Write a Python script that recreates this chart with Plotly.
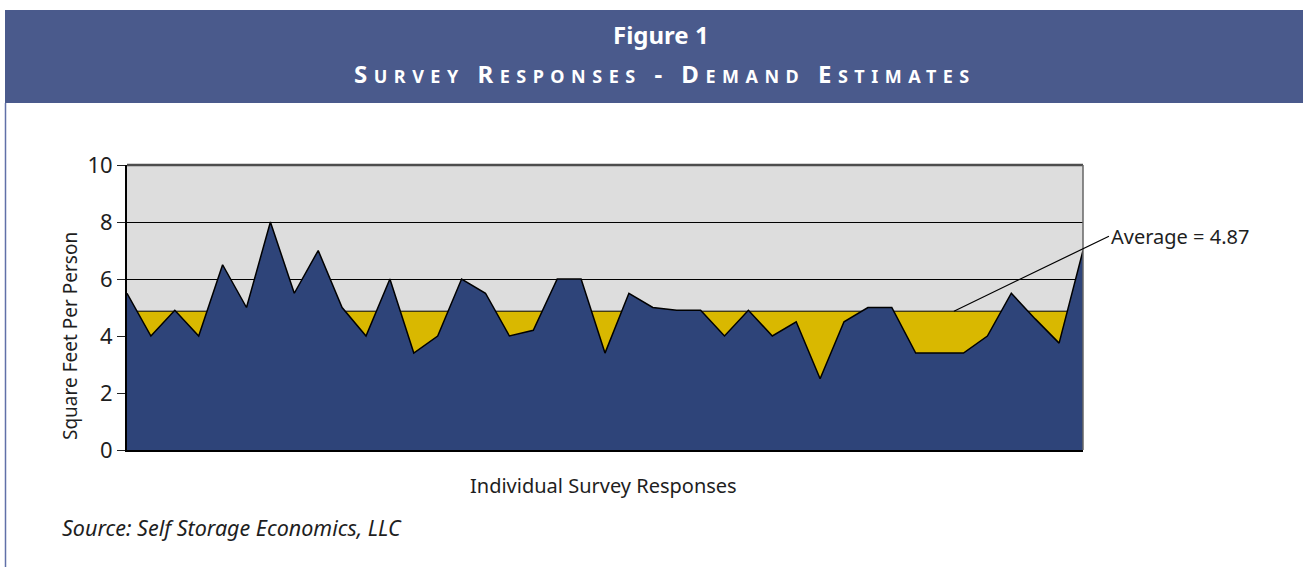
import plotly.graph_objects as go

# ---- data ----
responses = list(range(41))
sq_ft_per_person = [5.5, 4.0, 4.9, 4.0, 6.5, 5.0, 8.0, 5.5, 7.0, 5.0,
                    4.0, 6.0, 3.4, 4.0, 6.0, 5.5, 4.0, 4.2, 6.0, 6.0,
                    3.4, 5.5, 5.0, 4.9, 4.9, 4.0, 4.9, 4.0, 4.5, 2.5,
                    4.5, 5.0, 5.0, 3.4, 3.4, 3.4, 4.0, 5.5, 4.6, 3.75,
                    7.0]
average_value = 4.87
average_line = [average_value] * len(responses)
y_tick_values = [0, 2, 4, 6, 8, 10]
y_tick_labels = ["0", "2", "4", "6", "8", "10"]

# ---- geometry helpers (pixel -> paper) ----
W, H = 1303, 567
L, R, T, B = 127, 1083, 165, 450


def px(x):
    return (x - L) / (R - L)


def py(y):
    return (B - y) / (B - T)


FONT = "Noto Sans"
BANNER = "#4a5a8c"
NAVY = "#2e4479"
GOLD = "#d9b800"
TXT = "#1e1e1e"

fig = go.Figure()

# average band (gold) - visible where data falls below the average
fig.add_trace(go.Scatter(
    x=responses, y=average_line, mode="lines",
    line=dict(color="black", width=1),
    fill="tozeroy", fillcolor=GOLD, hoverinfo="skip", showlegend=False))

# responses area (navy)
fig.add_trace(go.Scatter(
    x=responses, y=sq_ft_per_person, mode="lines",
    line=dict(color="black", width=1.5),
    fill="tozeroy", fillcolor=NAVY, showlegend=False))

fig.update_xaxes(range=[0, 40], showgrid=False, zeroline=False,
                 showticklabels=False, ticks="", showline=True,
                 linecolor="black", linewidth=2)
fig.update_yaxes(range=[0, 10], tickvals=y_tick_values, ticktext=y_tick_labels,
                 showgrid=True, gridcolor="black", gridwidth=1,
                 zeroline=False, ticks="outside", ticklen=8, tickcolor="#222",
                 showline=True, linecolor="black", linewidth=2,
                 tickfont=dict(family=FONT, size=22, color=TXT))

shapes = [
    # banner
    dict(type="rect", xref="paper", yref="paper",
         x0=px(5), x1=px(1310), y0=py(103), y1=py(10),
         fillcolor=BANNER, line=dict(width=0), layer="below"),
    # left frame line
    dict(type="line", xref="paper", yref="paper",
         x0=px(5.5), x1=px(5.5), y0=py(103), y1=py(570),
         line=dict(color="#6070a8", width=1.5)),
    # top border of plot
    dict(type="line", xref="paper", yref="paper",
         x0=0, x1=1, y0=1, y1=1, line=dict(color="#4d4d4d", width=2.5)),
    # right border of plot
    dict(type="line", xref="paper", yref="paper",
         x0=1, x1=1, y0=0, y1=1, line=dict(color="#666666", width=1.5)),
]

small = "<span style='font-size:18px'>"
sub = (f"S{small}URVEY</span> R{small}ESPONSES</span> - "
       f"D{small}EMAND</span> E{small}STIMATES</span>")

annotations = [
    dict(text="<b>Figure 1</b>", xref="paper", yref="paper",
         x=px(661), y=py(35), xanchor="center", yanchor="middle",
         showarrow=False, font=dict(family=FONT, size=24, color="white")),
    dict(text=f"<b><span style='letter-spacing:6.5px'>{sub}</span></b>",
         xref="paper", yref="paper", x=px(665), y=py(74),
         xanchor="center", yanchor="middle", showarrow=False,
         font=dict(family=FONT, size=24, color="white")),
    dict(text="Square Feet Per Person", xref="paper", yref="paper",
         x=px(70), y=py(336), xanchor="center", yanchor="middle",
         textangle=-90, showarrow=False,
         font=dict(family=FONT, size=19, color=TXT)),
    dict(text="Individual Survey Responses", xref="paper", yref="paper",
         x=px(603), y=py(485), xanchor="center", yanchor="middle",
         showarrow=False, font=dict(family=FONT, size=20, color=TXT)),
    dict(text="<i>Source: Self Storage Economics, LLC</i>", xref="paper",
         yref="paper", x=px(60), y=py(527), xanchor="left", yanchor="middle",
         showarrow=False, font=dict(family=FONT, size=21.5, color=TXT)),
    dict(text=f"Average = {average_value:.2f}", xref="x", yref="y",
         x=34.6, y=average_value, ax=1110 - 955, ay=235 - 310,
         xanchor="left", yanchor="middle", showarrow=True, arrowhead=0,
         arrowwidth=1.2, arrowcolor="black",
         font=dict(family=FONT, size=20, color=TXT)),
]

fig.update_layout(
    width=W, height=H, autosize=False,
    margin=dict(l=L, r=W - R, t=T, b=H - B),
    paper_bgcolor="white", plot_bgcolor="#dddddd",
    shapes=shapes, annotations=annotations,
    showlegend=False,
)

fig.write_html("out.html")
